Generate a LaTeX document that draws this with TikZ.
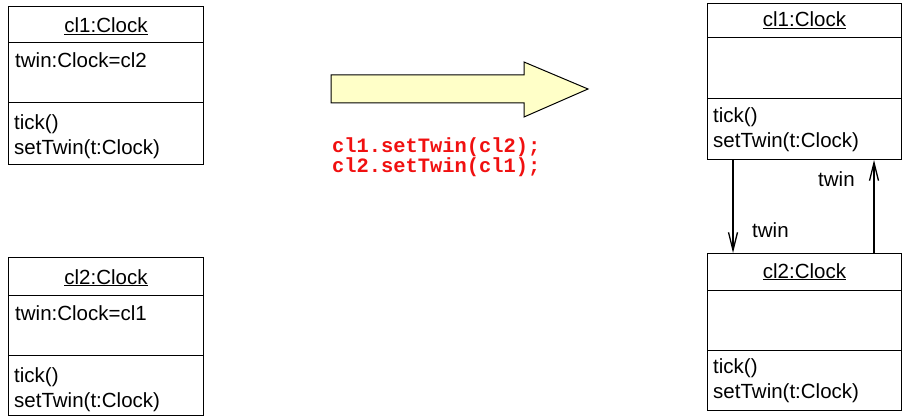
\documentclass[tikz,border=0pt]{standalone}
\usepackage{fontspec}
\setmainfont{Liberation Sans}
\setmonofont{Liberation Mono}
\usetikzlibrary{arrows.meta,calc}
\definecolor{blockfill}{HTML}{FFFFC8}
\definecolor{codered}{HTML}{F01010}
\begin{document}
\begin{tikzpicture}[x=1pt,y=-1pt,
  objbox/.style={draw, line width=1pt, inner sep=0pt, anchor=north west, minimum width=195pt},
  divider/.style={line width=1pt},
  lbl/.style={inner sep=0pt, font=\fontsize{20.5}{25}\selectfont},
  link/.style={line width=1.3pt, -{Straight Barb[length=18pt,width=9pt,line width=1.3pt]}},
  code/.style={inner sep=0pt, anchor=base west, text=codered, font=\ttfamily\bfseries\fontsize{20.4}{20}\selectfont}]
\useasboundingbox (0,0) rectangle (906,417);

% ---- left top object
\node[objbox, minimum height=158pt] (l1) at (8,6) {};
\draw[divider] ([yshift=-37pt]l1.north west) -- ([yshift=-37pt]l1.north east);
\draw[divider] ([yshift=-97pt]l1.north west) -- ([yshift=-97pt]l1.north east);
\node[lbl, anchor=base] (l1t) at ([yshift=-27pt]l1.north) {\underline{cl1:Clock}};
\node[lbl, anchor=base west] (l1a) at ([xshift=7pt,yshift=-62pt]l1.north west) {twin:Clock=cl2};
\node[lbl, anchor=base west] (l1m1) at ([xshift=6pt,yshift=-124pt]l1.north west) {tick()};
\node[lbl, anchor=base west] (l1m2) at ([xshift=6pt,yshift=-149pt]l1.north west) {setTwin(t:Clock)};

% ---- left bottom object
\node[objbox, minimum height=158pt] (l2) at (8,257) {};
\draw[divider] ([yshift=-38pt]l2.north west) -- ([yshift=-38pt]l2.north east);
\draw[divider] ([yshift=-98pt]l2.north west) -- ([yshift=-98pt]l2.north east);
\node[lbl, anchor=base] (l2t) at ([yshift=-27pt]l2.north) {\underline{cl2:Clock}};
\node[lbl, anchor=base west] (l2a) at ([xshift=7pt,yshift=-63pt]l2.north west) {twin:Clock=cl1};
\node[lbl, anchor=base west] (l2m1) at ([xshift=6pt,yshift=-125pt]l2.north west) {tick()};
\node[lbl, anchor=base west] (l2m2) at ([xshift=6pt,yshift=-150pt]l2.north west) {setTwin(t:Clock)};

% ---- block arrow
\filldraw[fill=blockfill, line width=1pt, line join=miter]
  (331,75) -- (524,75) -- (524,62) -- (588,89) -- (524,117) -- (524,103) -- (331,103) -- cycle;

% ---- code
\node[code] (c1) at (332,153) {cl1.setTwin(cl2);};
\node[code] (c2) at (332,173) {cl2.setTwin(cl1);};

% ---- right top object
\node[objbox, minimum width=194pt, minimum height=156pt] (r1) at (707,3) {};
\draw[divider] ([yshift=-35pt]r1.north west) -- ([yshift=-35pt]r1.north east);
\draw[divider] ([yshift=-96pt]r1.north west) -- ([yshift=-96pt]r1.north east);
\node[lbl, anchor=base] (r1t) at ([yshift=-24pt]r1.north) {\underline{cl1:Clock}};
\node[lbl, anchor=base west] (r1m1) at ([xshift=6pt,yshift=-120pt]r1.north west) {tick()};
\node[lbl, anchor=base west] (r1m2) at ([xshift=6pt,yshift=-145pt]r1.north west) {setTwin(t:Clock)};

% ---- right bottom object
\node[objbox, minimum width=194pt, minimum height=157pt] (r2) at (707,253) {};
\draw[divider] ([yshift=-37pt]r2.north west) -- ([yshift=-37pt]r2.north east);
\draw[divider] ([yshift=-97pt]r2.north west) -- ([yshift=-97pt]r2.north east);
\node[lbl, anchor=base] (r2t) at ([yshift=-25pt]r2.north) {\underline{cl2:Clock}};
\node[lbl, anchor=base west] (r2m1) at ([xshift=6pt,yshift=-120pt]r2.north west) {tick()};
\node[lbl, anchor=base west] (r2m2) at ([xshift=6pt,yshift=-145pt]r2.north west) {setTwin(t:Clock)};

% ---- links
\draw[link] ([xshift=26pt]r1.south west) -- ([xshift=26pt]r2.north west);
\draw[link] ([xshift=-28pt]r2.north east) -- ([xshift=-28pt]r1.south east);
\node[lbl, anchor=base west] (tw1) at (752,238) {twin};
\node[lbl, anchor=base west] (tw2) at (818,187) {twin};
\end{tikzpicture}
\end{document}
